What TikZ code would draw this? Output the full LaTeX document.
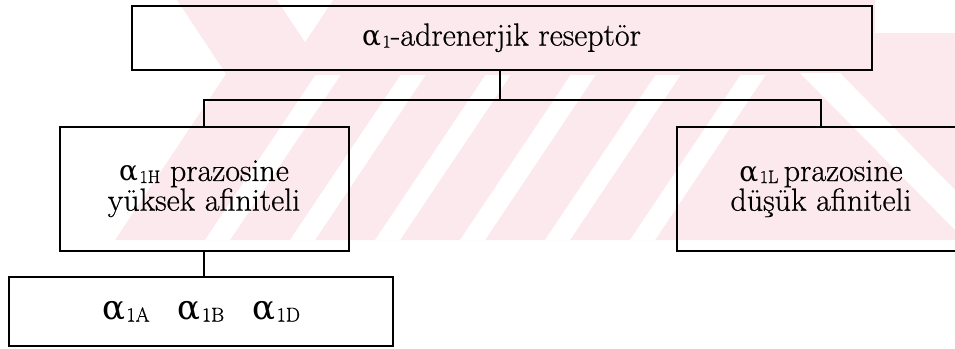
\documentclass[tikz,border=0pt]{standalone}
\usepackage{fontspec}
\setmainfont{Latin Modern Roman}[FakeBold=0.6]
\newfontfamily\gk{DejaVu Serif}
\definecolor{wm}{RGB}{252,233,237}
\newcommand\sbs[1]{\kern1.5pt\raisebox{-2pt}{\fontsize{18}{18}\selectfont #1}}
\newcommand\bsbs[1]{\kern1.5pt\raisebox{-2pt}{\fontsize{20}{20}\selectfont #1}}
\newcommand\al{{\gk\fontsize{28}{28}\selectfont α}}
\newcommand\bigal{{\gk\fontsize{34}{34}\selectfont α}}
\begin{document}
\begin{tikzpicture}[x=1pt,y=-1pt,
  box/.style={draw=black, line width=2pt, rectangle, inner sep=0pt, align=center,
              font=\fontsize{32}{28}\selectfont},
  link/.style={line width=2pt}]
\useasboundingbox (0,0) rectangle (955,348);
% watermark
\begin{scope}
\clip (0,0) rectangle (955,240);
\fill[wm] (177,0) -- (875,0) -- (875,33) -- (955,33) -- (955,240) -- (115,240) -- (226,74) -- cycle;
\foreach \xb in {205,290,375,460,545,630}
  \fill[white] (\xb,240) -- (\xb+25,240) -- (\xb+25+0.67*165,75) -- (\xb+0.67*165,75) -- cycle;
\fill[white] (277,0) -- (333,0) -- (305,42) -- cycle;
\fill[white] (800,73) -- (840,73) -- (955,190) -- (955,230) -- cycle;
\end{scope}
% boxes
\node[box, minimum width=740pt, minimum height=64.5pt] (top) at (501.5,37.75)
  {\al\sbs{1}-adrenerjik reseptör};
\node[box, minimum width=289pt, minimum height=123.5pt] (left) at (204,188.75)
  {\al\sbs{1H} prazosine\\yüksek afiniteli};
\node[box, minimum width=289pt, minimum height=123.5pt] (right) at (821,188.75)
  {\al\sbs{1L}\,prazosine\\düşük afiniteli};
\node[box, minimum width=384pt, minimum height=69pt] (bottom) at (201,311.5)
  {\bigal\bsbs{1A}\hspace{28pt}\bigal\bsbs{1B}\hspace{28pt}\bigal\bsbs{1D}};
% connectors
\coordinate (hub) at (500,100);
\draw[link] (top.south -| hub) -- (hub);
\draw[link] (left.north) |- (hub) -| (right.north);
\draw[link] (left.south) -- (left.south |- bottom.north);
\end{tikzpicture}
\end{document}
